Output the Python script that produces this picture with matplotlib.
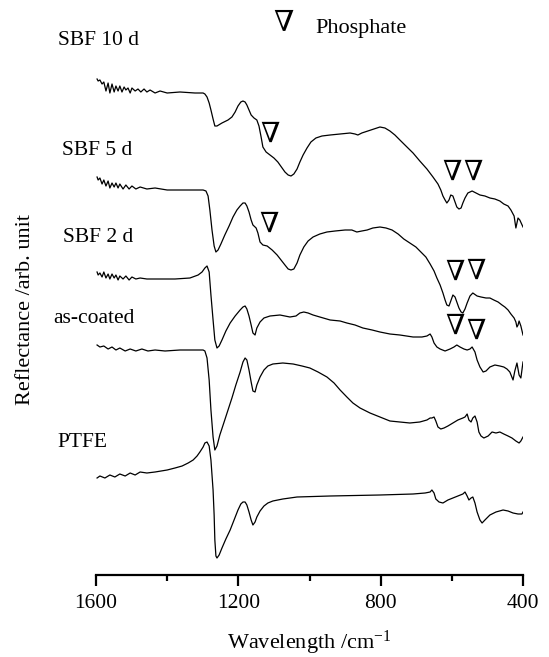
import matplotlib
matplotlib.use("Agg")
import matplotlib.pyplot as plt

plt.rcParams["font.family"] = ["Liberation Serif", "DejaVu Serif"]
plt.rcParams["mathtext.fontset"] = "custom"
plt.rcParams["mathtext.rm"] = "Liberation Serif"
plt.rcParams["mathtext.it"] = "Liberation Serif:italic"

# Stacked reflectance spectra (wavenumber in cm^-1, reflectance in arbitrary offset units)
wn_sbf10 = [1597, 1594, 1589, 1583, 1578, 1572, 1566, 1561, 1555, 1549, 1544, 1538, 1533, 1527,
            1521, 1516, 1510, 1504, 1499, 1490, 1482, 1474, 1465, 1457, 1448, 1434, 1420, 1400,
            1364, 1322, 1299, 1294, 1288, 1282, 1277, 1271, 1266, 1260, 1246, 1229, 1218, 1209,
            1201, 1193, 1187, 1181, 1176, 1170, 1164, 1156, 1148, 1142, 1136, 1131, 1122, 1111,
            1100, 1089, 1077, 1069, 1060, 1052, 1044, 1035, 1027, 1018, 1007, 996, 982, 965, 942,
            914, 886, 872, 864, 853, 836, 819, 802, 788, 774, 760, 746, 729, 709, 690, 670, 653,
            639, 631, 625, 619, 614, 608, 603, 597, 591, 586, 580, 574, 569, 563, 555, 543, 532,
            521, 507, 493, 479, 465, 454, 442, 434, 425, 420, 414, 409, 400]
r_sbf10 = [496, 494, 495, 491, 493, 484, 492, 482, 491, 483, 489, 484, 489, 483,
           488, 485, 487, 482, 487, 484, 486, 483, 486, 483, 485, 482, 484, 482,
           483, 482, 482, 481, 478, 472, 465, 456, 449, 449, 452, 455, 458, 463,
           469, 473, 474, 473, 470, 465, 460, 457, 455, 449, 438, 428, 423, 420,
           417, 413, 407, 403, 400, 399, 401, 406, 413, 420, 427, 433, 437, 439, 440,
           441, 442, 441, 440, 442, 444, 446, 448, 447, 444, 440, 435, 429, 422, 414, 406, 398,
           391, 385, 379, 375, 372, 375, 380, 379, 373, 368, 366, 367, 372, 377, 382, 384, 382,
           380, 379, 377, 376, 374, 371, 369, 365, 359, 347, 357, 355, 348]

wn_sbf5 = [1597, 1594, 1589, 1583, 1578, 1572, 1566, 1561, 1555, 1549, 1544, 1538, 1533, 1524,
           1516, 1507, 1499, 1488, 1476, 1457, 1434, 1400, 1350, 1299, 1291, 1285, 1280, 1274,
           1268, 1263, 1257, 1249, 1238, 1226, 1215, 1204, 1195, 1187, 1181, 1176, 1170, 1164,
           1159, 1150, 1145, 1139, 1131, 1119, 1105, 1091, 1080, 1069, 1060, 1052, 1044, 1035,
           1027, 1016, 1004, 990, 971, 951, 928, 900, 881, 867, 853, 838, 822, 802, 785, 768,
           751, 735, 718, 701, 687, 673, 661, 650, 642, 633, 625, 619, 614, 608, 603, 597, 591,
           586, 580, 574, 569, 563, 557, 549, 541, 529, 518, 504, 493, 482, 470, 459, 451, 442,
           434, 425, 420, 417, 414, 411, 406, 400]
r_sbf5 = [398, 395, 397, 391, 395, 389, 394, 387, 392, 388, 392, 387, 391, 386,
          390, 386, 389, 386, 388, 386, 387, 385, 385, 385, 384, 379, 365, 345,
          329, 323, 325, 331, 340, 349, 358, 365, 369, 372, 372, 369, 363, 355,
          350, 347, 342, 333, 330, 329, 325, 320, 315, 310, 306, 305, 306, 312,
          320, 328, 334, 338, 341, 343, 344, 345, 345, 343, 344, 345, 347, 348, 347, 345,
          341, 336, 332, 328, 323, 318, 311, 304, 297, 290, 282, 275, 270, 269, 274, 280, 278,
          273, 267, 263, 262, 266, 272, 279, 282, 279, 278, 277, 277, 275, 273, 270, 268,
          265, 261, 257, 253, 248, 250, 254, 249, 240]

wn_sbf2 = [1597, 1594, 1589, 1583, 1578, 1572, 1566, 1561, 1555, 1549, 1544, 1538, 1533, 1524,
           1516, 1507, 1499, 1488, 1476, 1457, 1420, 1378, 1336, 1313, 1302, 1294, 1288, 1282,
           1277, 1271, 1266, 1260, 1254, 1246, 1235, 1223, 1209, 1195, 1187, 1181, 1176, 1170,
           1164, 1159, 1153, 1148, 1139, 1128, 1111, 1083, 1055, 1038, 1027, 1016, 1004, 990,
           971, 942, 914, 895, 872, 850, 824, 802, 774, 746, 709, 684, 670, 661, 656, 650, 642,
           633, 619, 605, 594, 586, 577, 566, 557, 549, 543, 535, 529, 521, 512, 504, 493, 479,
           465, 454, 445, 437, 428, 423, 417, 411, 406, 400]
r_sbf2 = [303, 300, 302, 298, 303, 297, 301, 296, 301, 297, 300, 295, 299, 296,
          299, 295, 298, 296, 297, 296, 296, 296, 297, 300, 303, 307, 309, 303,
          280, 255, 235, 227, 229, 235, 244, 252, 259, 265, 268, 269, 266, 259,
          250, 242, 240, 247, 253, 257, 259, 260, 258, 259, 262, 263, 262, 260,
          258, 255, 254, 252, 250, 247, 245, 243, 241, 240, 238, 238, 239, 241, 238, 232, 228,
          226, 224, 226, 228, 230, 228, 226, 225, 226, 228, 223, 215, 208, 203, 204, 208, 210,
          209, 208, 206, 203, 195, 204, 212, 200, 197, 213]

wn_coated = [1597, 1589, 1578, 1566, 1555, 1544, 1533, 1518, 1504, 1488, 1471, 1454, 1434, 1406,
             1364, 1322, 1299, 1294, 1288, 1282, 1277, 1271, 1266, 1260, 1252, 1240, 1229, 1218,
             1207, 1195, 1187, 1181, 1176, 1170, 1164, 1159, 1153, 1148, 1139, 1128, 1117, 1103,
             1075, 1046, 1021, 999, 976, 951, 931, 914, 895, 878, 858, 830, 802, 774, 746, 718,
             690, 670, 661, 656, 650, 645, 639, 631, 622, 611, 597, 583, 569, 563, 557, 552, 546,
             541, 535, 529, 524, 518, 510, 498, 487, 476, 465, 454, 442, 431, 420, 411, 406, 400]
r_coated = [230, 228, 229, 226, 228, 225, 227, 224, 226, 224, 226, 224, 225, 224,
            225, 225, 225, 224, 217, 195, 165, 138, 125, 129, 140, 153, 165, 177,
            190, 203, 213, 217, 215, 205, 193, 184, 183, 190, 198, 205, 209, 211,
            212, 211, 209, 207, 203, 198, 192, 185, 178, 172, 167, 162, 158, 154, 153, 152,
            153, 155, 157, 157, 158, 154, 148, 146, 147, 149, 152, 155, 157, 158, 161, 155, 153,
            157, 159, 153, 143, 139, 137, 139, 143, 142, 143, 141, 139, 137, 134, 132, 134, 138]

wn_ptfe = [1597, 1589, 1575, 1561, 1547, 1533, 1518, 1504, 1490, 1476, 1457, 1434, 1400, 1378,
           1358, 1341, 1327, 1316, 1308, 1299, 1294, 1288, 1282, 1277, 1271, 1268, 1266, 1263,
           1260, 1254, 1246, 1235, 1223, 1212, 1201, 1193, 1187, 1181, 1176, 1170, 1164, 1159,
           1153, 1148, 1139, 1128, 1117, 1103, 1075, 1035, 942, 802, 709, 675, 661, 656, 650,
           645, 636, 625, 611, 597, 583, 569, 563, 557, 552, 546, 541, 535, 529, 521, 515, 507,
           493, 476, 456, 442, 428, 414, 403, 400]
r_ptfe = [97, 99, 97, 100, 98, 101, 99, 102, 100, 103, 102, 103, 105, 107,
          109, 112, 115, 119, 123, 128, 132, 133, 129, 115, 85, 60, 35, 19,
          17, 20, 27, 36, 45, 55, 65, 71, 73, 73, 70, 63, 55, 50,
          53, 58, 64, 69, 72, 74, 76, 78, 79, 80, 81, 82, 83, 85, 82,
          76, 73, 72, 75, 77, 79, 81, 83, 79, 75, 77, 78, 72, 63, 55, 52, 55,
          60, 63, 65, 64, 62, 61, 61, 63]

sample_labels = ["SBF 10 d", "SBF 5 d", "SBF 2 d", "as-coated", "PTFE"]
label_xy_px = [(58, 45), (62, 155), (63, 242), (53, 323), (57, 447)]

# Phosphate band markers: (wavenumber, reflectance level)
phosphate_wn = [1111, 600, 541, 1114, 590, 533, 590, 533]
phosphate_r = [440, 402, 402, 350, 302, 303, 248, 243]

W, H = 549, 657
fig = plt.figure(figsize=(W / 100, H / 100), dpi=100)
ax = fig.add_axes([96 / W, (H - 575) / H, 427 / W, 575 / H])

for wn, r in [(wn_sbf10, r_sbf10), (wn_sbf5, r_sbf5), (wn_sbf2, r_sbf2),
              (wn_coated, r_coated), (wn_ptfe, r_ptfe)]:
    ax.plot(wn, r, color="black", lw=0.9)

for w, r in zip(phosphate_wn, phosphate_r):
    ax.text(w, r, "\u2207", ha="center", va="center", fontsize=20)

ax.set_xlim(1600, 400)
ax.set_ylim(0, 575)
ax.set_xticks([1600, 1200, 800, 400])
ax.set_xticks([1400, 1000, 600], minor=True)
ax.set_yticks([])
for s in ["top", "right", "left"]:
    ax.spines[s].set_visible(False)
ax.spines["bottom"].set_linewidth(1.6)
ax.tick_params(axis="x", which="major", length=8, width=1.6, labelsize=15.5, pad=6)
ax.tick_params(axis="x", which="minor", length=4.5, width=1.6)
ax.patch.set_alpha(0)

ax.set_xlabel("Wavelength /cm$^{-1}$", fontsize=16, labelpad=11)
ax.set_ylabel("Reflectance /arb. unit", fontsize=16, va="center")
ax.yaxis.set_label_coords(-0.166, 0.461)

for txt, (x, y) in zip(sample_labels, label_xy_px):
    fig.text(x / W, 1 - y / H, txt, ha="left", va="baseline", fontsize=15.5)

fig.text(283 / W, 1 - 23 / H, "\u2207", ha="center", va="center", fontsize=21)
fig.text(315 / W, 1 - 33 / H, "Phosphate", ha="left", va="baseline", fontsize=16)

fig.savefig("out.png", dpi=100)
